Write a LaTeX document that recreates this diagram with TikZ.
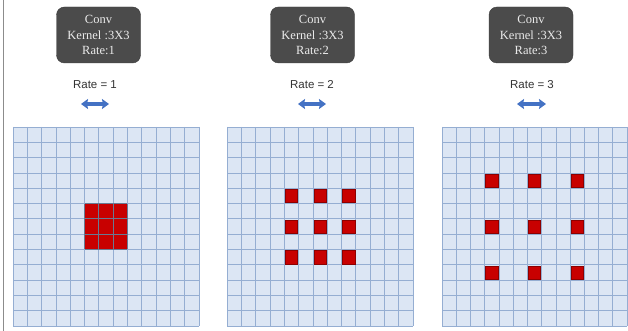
\documentclass[tikz,border=0pt]{standalone}
\usepackage{fontspec}
\setmainfont{Liberation Serif}
\setsansfont{Liberation Sans}
\usetikzlibrary{arrows.meta}
\definecolor{cellfill}{HTML}{DCE6F4}
\definecolor{gridline}{HTML}{95AED2}
\definecolor{redcell}{HTML}{C80000}
\definecolor{boxfill}{HTML}{4B4B4B}
\definecolor{arrowblue}{HTML}{4472C4}
\tikzset{
  convbox/.style={draw=boxfill!80!black, fill=boxfill, rounded corners=8pt, text=white!92!black,
    font=\fontsize{12.5}{15.5}\selectfont, align=center, minimum width=84pt, minimum height=56pt, inner sep=2pt},
  ratelabel/.style={font=\sffamily\fontsize{11.5}{13}\selectfont, text=black!80},
  ratearrow/.style={arrowblue, line width=3.4pt, {Stealth[length=7pt,width=10pt,inset=1pt]}-{Stealth[length=7pt,width=10pt,inset=1pt]}},
  gridstroke/.style={gridline, line width=0.7pt},
  hot/.style={fill=redcell, draw=redcell!70!black, line width=0.5pt}
}
\newcommand{\dgrid}[5]{% x0 x1 y0 y1 name
  \fill[cellfill] (#1,#3) rectangle (#2,#4);
  \foreach \i in {0,...,13}{
    \draw[gridstroke] ({#1+(#2-#1)*\i/13},#3) -- ({#1+(#2-#1)*\i/13},#4);
    \draw[gridstroke] (#1,{#3+(#4-#3)*\i/13}) -- (#2,{#3+(#4-#3)*\i/13});
  }
  \coordinate (#5) at (#1,#3);
}
\begin{document}
\begin{tikzpicture}[x=1pt,y=-1pt]
\useasboundingbox (0,0) rectangle (628,331);
\fill[white] (0,0) rectangle (628,331);
\draw[black!45, line width=1pt] (3,0) -- (3,331);

% grids
\dgrid{13}{199}{127}{326}{g1}
\dgrid{227}{413}{127}{326}{g2}
\dgrid{442}{627}{127}{326}{g3}

% grid 1 red block (rows/cols 5..7)
\pgfmathsetmacro{\cw}{(199-13)/13}
\pgfmathsetmacro{\ch}{(326-127)/13}
\fill[redcell] ({13+5*\cw},{127+5*\ch}) rectangle ({13+8*\cw},{127+8*\ch});
\foreach \i in {5,...,8}{
  \draw[gridstroke, gridline!70!black] ({13+\i*\cw},{127+5*\ch}) -- ({13+\i*\cw},{127+8*\ch});
  \draw[gridstroke, gridline!70!black] ({13+5*\cw},{127+\i*\ch}) -- ({13+8*\cw},{127+\i*\ch});
}
% grid 2 red cells (4,6,8)
\pgfmathsetmacro{\cwb}{(413-227)/13}
\foreach \c in {4,6,8}{\foreach \r in {4,6,8}{
  \draw[hot] ({227+\c*\cwb+1},{127+\r*\ch+1}) rectangle ({227+(\c+1)*\cwb-1},{127+(\r+1)*\ch-1});
}}
% grid 3 red cells (3,6,9)
\pgfmathsetmacro{\cwc}{(627-442)/13}
\foreach \c in {3,6,9}{\foreach \r in {3,6,9}{
  \draw[hot] ({442+\c*\cwc+1},{127+\r*\ch+1}) rectangle ({442+(\c+1)*\cwc-1},{127+(\r+1)*\ch-1});
}}

% boxes
\node[convbox] (b1) at (98.5,35) {Conv\\Kernel :3X3\\Rate:1};
\node[convbox] (b2) at (312.5,35) {Conv\\Kernel :3X3\\Rate:2};
\node[convbox] (b3) at (531,35) {Conv\\Kernel :3X3\\Rate:3};

% rate labels
\node[ratelabel] (r1) at (95,85) {Rate = 1};
\node[ratelabel] (r2) at (312,85) {Rate = 2};
\node[ratelabel] (r3) at (532,85) {Rate = 3};

% arrows
\coordinate (a1l) at (81,104); \coordinate (a1r) at (109,104);
\coordinate (a2l) at (298,104); \coordinate (a2r) at (326,104);
\coordinate (a3l) at (517,104); \coordinate (a3r) at (546,104);
\draw[ratearrow] (a1l) -- (a1r);
\draw[ratearrow] (a2l) -- (a2r);
\draw[ratearrow] (a3l) -- (a3r);
\end{tikzpicture}
\end{document}
